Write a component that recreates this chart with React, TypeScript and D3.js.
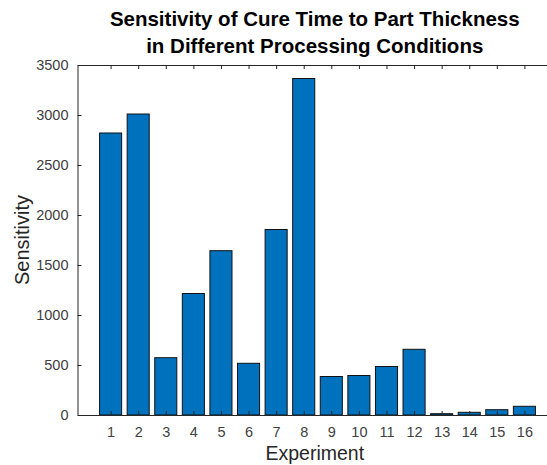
import React, { useEffect, useRef } from "react";
import * as d3 from "d3";

const experiments = [1, 2, 3, 4, 5, 6, 7, 8, 9, 10, 11, 12, 13, 14, 15, 16];
const sensitivity = [2820, 3010, 573, 1215, 1643, 517, 1855, 3365, 385, 395, 485, 657, 13, 27, 53, 87];
const yTicks = [0, 500, 1000, 1500, 2000, 2500, 3000, 3500];
const titleLines = ["Sensitivity of Cure Time to Part Thickness", "in Different Processing Conditions"];

const BarChart = () => {
    const svgRef = useRef<SVGSVGElement>(null);

    useEffect(() => {
        const svg = d3.select(svgRef.current);
        svg.selectAll("*").remove();

        const width = 547;
        const height = 465;
        const margin = { top: 65, right: -5, bottom: 50, left: 77.5 };
        const font = "Liberation Sans, Arial, Helvetica, sans-serif";
        const axisColor = "#262626";

        const x = d3
            .scaleLinear()
            .domain([-0.2, 17])
            .range([margin.left, width - margin.right]);
        const y = d3
            .scaleLinear()
            .domain([0, 3500])
            .range([height - margin.bottom, margin.top]);

        const data = experiments.map((e, i) => ({ x: e, y: sensitivity[i] }));
        const barW = x(0.8) - x(0);

        // bars
        svg.append("g")
            .selectAll("rect")
            .data(data)
            .enter()
            .append("rect")
            .attr("x", (d) => x(d.x) - barW / 2)
            .attr("y", (d) => y(d.y))
            .attr("width", barW)
            .attr("height", (d) => y(0) - y(d.y))
            .attr("fill", "#0072BD")
            .attr("stroke", "#111")
            .attr("stroke-width", 1);

        // bottom axis (ticks inward)
        svg.append("g")
            .attr("transform", `translate(0,${y(0)})`)
            .call(d3.axisBottom(x).tickValues(experiments).tickSizeInner(-4).tickSizeOuter(0).tickPadding(12))
            .call((g) => g.select(".domain").attr("stroke", axisColor))
            .call((g) => g.selectAll(".tick line").attr("stroke", axisColor))
            .call((g) =>
                g.selectAll("text").attr("fill", "#404040").style("font-size", "14.5px").style("font-family", font)
            );

        // top axis (ticks only, inward)
        svg.append("g")
            .attr("transform", `translate(0,${y(3500)})`)
            .call(d3.axisTop(x).tickValues(experiments).tickSizeInner(-4).tickSizeOuter(0).tickFormat(() => ""))
            .call((g) => g.select(".domain").attr("stroke", axisColor))
            .call((g) => g.selectAll(".tick line").attr("stroke", axisColor));

        // left axis
        svg.append("g")
            .attr("transform", `translate(${margin.left},0)`)
            .call(
                d3
                    .axisLeft(y)
                    .tickValues(yTicks)
                    .tickSizeInner(-4)
                    .tickSizeOuter(0)
                    .tickPadding(9)
                    .tickFormat(d3.format("d"))
            )
            .call((g) => g.select(".domain").attr("stroke", axisColor))
            .call((g) => g.selectAll(".tick line").attr("stroke", axisColor))
            .call((g) =>
                g.selectAll("text").attr("fill", "#404040").style("font-size", "14.5px").style("font-family", font)
            );

        const midX = (x(-0.2) + x(17)) / 2;

        // title
        svg.append("text")
            .attr("x", midX)
            .attr("text-anchor", "middle")
            .attr("font-weight", "bold")
            .style("font-size", "20.5px")
            .style("font-family", font)
            .attr("fill", "#000")
            .selectAll("tspan")
            .data(titleLines)
            .enter()
            .append("tspan")
            .attr("x", midX)
            .attr("y", (d, i) => 26 + i * 27)
            .text((d) => d);

        // x label
        svg.append("text")
            .attr("x", midX)
            .attr("y", 460)
            .attr("text-anchor", "middle")
            .style("font-size", "19.5px")
            .style("font-family", font)
            .attr("fill", "#262626")
            .text("Experiment");

        // y label
        svg.append("text")
            .attr("transform", `translate(29,${(y(0) + y(3500)) / 2}) rotate(-90)`)
            .attr("text-anchor", "middle")
            .style("font-size", "20px")
            .style("font-family", font)
            .attr("fill", "#262626")
            .text("Sensitivity");
    }, []);

    return (
        <div style={{ position: "absolute", left: 0, top: 0, width: 547, height: 465, background: "#fff" }}>
            <svg ref={svgRef} width={547} height={465} style={{ display: "block" }}></svg>
        </div>
    );
};

export default function App() {
    return <BarChart />;
}
